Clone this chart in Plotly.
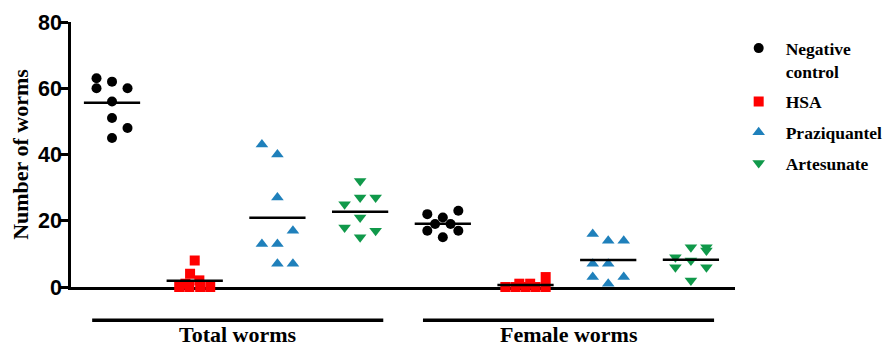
import plotly.graph_objects as go

# ---- data ----
groups = ["Total worms", "Female worms"]
treatments = ["Negative<br>control", "HSA", "Praziquantel", "Artesunate"]

total_neg = [63, 62, 60, 60, 56, 51, 48, 45]
total_hsa = [8, 4, 2, 1, 0, 0, 0, 0]
total_prz = [43, 40, 27, 17, 13, 13, 7, 7]
total_art = [32, 27, 27, 25, 21, 18, 17, 15]

female_neg = [22, 21, 23, 19, 19, 17, 15, 17]
female_hsa = [3, 1, 1, 0, 0, 0, 0, 0]
female_prz = [16, 14, 14, 7, 7, 3, 3, 1]
female_art = [12, 12, 11, 9, 8, 6, 6, 2]

# scatter column of each point (-1 left, 0 centre, +1 right)
col_total_neg = [-1, 0, -1, 1, 0, 0, 1, 0]
col_total_hsa = [0, -0.3, 0.3, -0.6, -1.0, -0.35, 0.35, 1.0]
col_total_prz = [-1, 0, 0, 1, -1, 0, 0, 1]
col_total_art = [0, 1, 0, -1, 0, -1, 1, 0]
col_female_neg = [-1, 0, 1, -0.5, 0.5, -1, 0, 1]
col_female_hsa = [1.3, -0.4, 0.3, -1.3, -0.65, 0, 0.65, 1.3]
col_female_prz = [-1, 0, 1, -1, 0, -1, 1, 0]
col_female_art = [0, 1, 1, -1, 0, -1, 1, 0]

values = {
    0: (total_neg, female_neg, col_total_neg, col_female_neg),
    1: (total_hsa, female_hsa, col_total_hsa, col_female_hsa),
    2: (total_prz, female_prz, col_total_prz, col_female_prz),
    3: (total_art, female_art, col_total_art, col_female_art),
}

colors = ["#000000", "#ff0000", "#1f80bb", "#10994a"]
symbols = ["circle", "square", "triangle-up", "triangle-down"]
sizes = [10, 10, 11, 11]

COLW = 0.1875      # spacing of scatter columns (x units)
HALF = 0.34        # half length of mean bar
XMIN, XMAX = -0.496, 7.533

fig = go.Figure()
mean_x, mean_y = [], []
for i, name in enumerate(treatments):
    tv, fv, tc, fc = values[i]
    xs = [i + c * COLW for c in tc] + [4 + i + c * COLW for c in fc]
    ys = tv + fv
    fig.add_trace(go.Scatter(
        x=xs, y=ys, mode="markers", name=name, legendgroup=str(i),
        marker=dict(color=colors[i], symbol=symbols[i], size=sizes[i],
                    line=dict(width=0)),
        cliponaxis=False,
    ))
    for pos, arr in ((i, tv), (4 + i, fv)):
        m = sum(arr) / len(arr)
        mean_x += [pos - HALF, pos + HALF, None]
        mean_y += [m, m, None]

fig.add_trace(go.Scatter(x=mean_x, y=mean_y, mode="lines", showlegend=False,
                         line=dict(color="black", width=2.5), cliponaxis=False,
                         hoverinfo="skip"))

def px(x):
    return (x - XMIN) / (XMAX - XMIN)

shapes, annotations = [], []
for g, name in enumerate(groups):
    c = 1.52 + 4 * g
    shapes.append(dict(type="line", xref="paper", yref="paper",
                       x0=px(c - 1.76), x1=px(c + 1.76), y0=-0.125, y1=-0.125,
                       line=dict(color="black", width=3.5)))
    annotations.append(dict(text="<b>%s</b>" % name, xref="x", yref="paper",
                            x=c, y=-0.1786, showarrow=False, yanchor="middle",
                            font=dict(family="Liberation Serif", size=22, color="black")))

# the page body adds an 8 px offset, so margins are shifted by 8 px
fig.update_layout(
    width=884, height=338,
    margin=dict(l=63, r=157, t=14, b=58.5, autoexpand=False),
    paper_bgcolor="white", plot_bgcolor="white",
    shapes=shapes, annotations=annotations,
    showlegend=True,
    legend=dict(x=0.995, y=0.969, xanchor="left", yanchor="top",
                font=dict(family="Liberation Serif", size=17.5, color="black", weight="bold"),
                tracegroupgap=5, valign="top", itemwidth=44,
                bgcolor="rgba(0,0,0,0)"),
    xaxis=dict(range=[XMIN, XMAX], showline=True, linecolor="black", linewidth=3,
               showticklabels=False, ticks="", showgrid=False, zeroline=False,
               layer="below traces", automargin=False),
    yaxis=dict(range=[0, 80], tickvals=[0, 20, 40, 60, 80], showline=True,
               linecolor="black", linewidth=2.5, ticks="outside", ticklen=8,
               tickwidth=2.5, tickcolor="black", showgrid=False, zeroline=False,
               ticklabelstandoff=-6,
               tickfont=dict(family="Liberation Sans", size=21.5, color="black", weight="bold"),
               title=dict(text="Number of worms", standoff=4,
                          font=dict(family="Liberation Serif", size=22, color="black", weight="bold")),
               layer="below traces", automargin=False),
)

fig.write_html("out.html")
